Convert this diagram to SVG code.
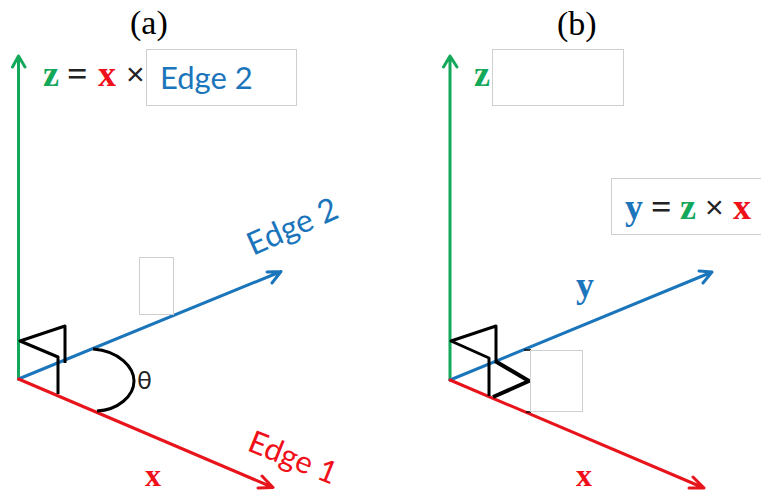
<svg xmlns="http://www.w3.org/2000/svg" width="761" height="493" viewBox="0 0 761 493">
<style>
.ax{fill:none;stroke-width:3;stroke-linecap:round;stroke-linejoin:round}
.g{stroke:#14a85a}.b{stroke:#1b75bb}.r{stroke:#e8141c}
.k{fill:none;stroke:#000;stroke-width:3;stroke-linejoin:round}
.box{fill:#fff;stroke:#cfcfcf;stroke-width:1}
.s{font-family:"Liberation Serif","Times New Roman",serif}
.v{font-family:"Liberation Serif","Times New Roman",serif;font-weight:bold;font-size:36px}
.q{font-family:"Liberation Serif","Times New Roman",serif;font-weight:bold;font-size:36px;fill:#222}
.t{font-family:"Liberation Sans",Arial,sans-serif;font-size:32px;fill:#222}
.l{font-family:Lato,"Open Sans",sans-serif;font-size:31px}
.gf{fill:#14a85a}.bf{fill:#1b75bb}.rf{fill:#f0101a}
</style>
<rect width="761" height="493" fill="#fff"/>
<g id="connectors">
<path class="ax g" d="M18.5,379V56M12.5,67L18.5,56L25,67"/>
<path class="ax b" d="M18.5,379L281,271.500M267,272L281,271.500L272,283"/>
<path class="ax r" d="M18.500,379L273,487.500M262,476L273,487.500L258,488"/>
<path class="ax g" d="M450,380V56M443.500,67L450,56L457,67"/>
<path class="ax b" d="M450,380L712,272M699,271L712,272L703,283"/>
<path class="ax r" d="M450,380L704,488M693,477L704,488L689,488"/>
<path class="k" d="M65,363V326L20,341L58,357V394"/>
<path class="k" d="M93,349C120,351 134,368 134,381C134,396 118,410 97,411"/>
<path class="k" d="M496,361V326L451,341L489,358V396"/>
<path class="k" style="stroke-width:4" d="M495,361L529,381L493,397"/>
<path class="k" style="stroke-width:1.500" d="M524,350H531M526,412H531"/>
</g>
<g id="title-a"><text class="s" x="130" y="34" font-size="34">(a)</text></g>
<g id="title-b"><text class="s" x="557" y="35" font-size="34">(b)</text></g>
<g id="eq-a">
<text class="v gf" x="43" y="86">z</text>
<text class="q" x="67" y="86">=</text>
<text class="v rf" x="98" y="86">x</text>
<text class="t" x="126" y="85">×</text>
</g>
<g id="box-edge2"><rect class="box" x="146.500" y="49.500" width="150" height="56"/><text class="l bf" x="160" y="89">Edge 2</text></g>
<g id="blank-a"><rect class="box" x="139.500" y="257.500" width="34" height="57"/></g>
<g id="label-edge2"><text class="l bf" style="font-size:32px" transform="translate(253,256) rotate(-24)">Edge 2</text></g>
<g id="label-edge1"><text class="l rf" transform="translate(246,450) rotate(22)">Edge 1</text></g>
<g id="label-theta"><text x="137" y="389" font-family="Lato,sans-serif" font-size="25" fill="#222">θ</text></g>
<g id="label-x-a"><text class="s rf" x="145" y="486" font-size="32" font-weight="bold">x</text></g>
<g id="eq-b">
<text class="v gf" x="474" y="86">z</text>
<rect class="box" x="492.500" y="49.500" width="131" height="56"/>
</g>
<g id="box-y"><rect class="box" x="611.500" y="178.500" width="150" height="56"/>
<text class="v bf" x="625" y="219">y</text>
<text class="q" x="651" y="219">=</text>
<text class="v gf" x="680" y="219">z</text>
<text class="t" x="705" y="218">×</text>
<text class="v rf" x="733" y="219">x</text></g>
<g id="label-y"><text class="v bf" x="576" y="297">y</text></g>
<g id="label-x-b"><text class="s rf" x="576" y="486" font-size="32" font-weight="bold">x</text></g>
<g id="blank-b"><rect class="box" x="530.500" y="350.500" width="52" height="61"/></g>
</svg>
